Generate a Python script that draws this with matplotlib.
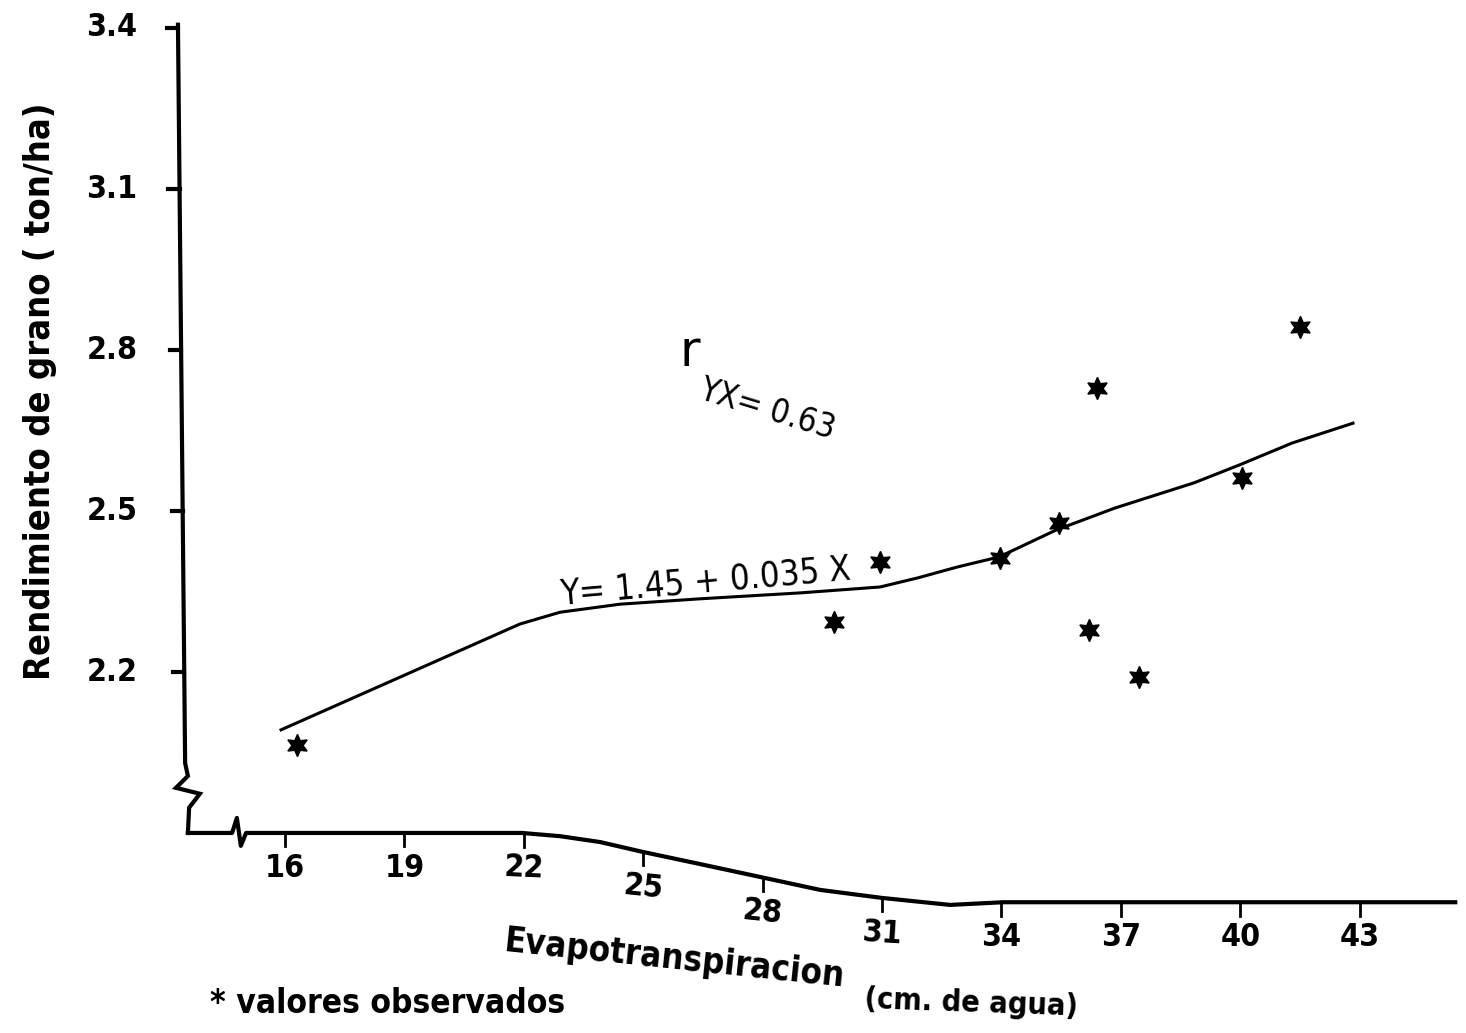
import matplotlib
matplotlib.use("Agg")
import matplotlib.pyplot as plt
import numpy as np

et_obs = [16.3, 29.8, 30.95, 33.95, 35.45, 36.2, 36.4, 37.45, 40.05, 41.5]
rend_obs = [2.065, 2.294, 2.406, 2.413, 2.478, 2.279, 2.730, 2.191, 2.562, 2.843]

# fitted line as it is drawn in the scan (the page is warped in the middle)
fit_x = [15.90, 21.90, 22.91, 24.42, 26.43, 28.94, 30.95, 31.90, 32.88,
         33.94, 35.37, 36.85, 38.84, 39.97, 41.30, 42.83]
fit_y = [2.093, 2.290, 2.312, 2.327, 2.337, 2.348, 2.359, 2.376, 2.396,
         2.415, 2.465, 2.506, 2.553, 2.586, 2.627, 2.664]

x_ticks = [16, 19, 22, 25, 28, 31, 34, 37, 40, 43]
y_ticks = [2.2, 2.5, 2.8, 3.1, 3.4]
y_labels = ["2.2", "2.5", "2.8", "3.1", "3.4"]

# hand drawn x axis line (bent like the page), with the break near the origin
axis_x = [13.56, 14.67, 14.79, 14.89, 15.02, 21.95, 22.91, 23.92, 24.97,
          26.43, 27.94, 29.44, 31.00, 32.71, 34.04, 36.98, 45.40]
axis_y = [1.901, 1.901, 1.929, 1.877, 1.901, 1.901, 1.895, 1.884, 1.866,
          1.843, 1.819, 1.795, 1.780, 1.767, 1.772, 1.772, 1.772]

# hand drawn y axis with its break
yax_x = [13.31, 13.49, 13.56, 13.26, 13.86, 13.59, 13.56]
yax_y = [3.406, 2.031, 2.007, 1.985, 1.974, 1.948, 1.901]

font = ['DejaVu Sans']
st = 'condensed'

fig = plt.figure(figsize=(14.66, 10.33), dpi=100)
ax = fig.add_axes([0, 0, 1, 1])
ax.set_xlim(8.839, 45.67)
ax.set_ylim(1.5285, 3.452)
ax.axis("off")

# axes lines
ax.plot(yax_x, yax_y, color="black", lw=3, solid_joinstyle="miter")
ax.plot(axis_x, axis_y, color="black", lw=3)

# y ticks and labels
for v, lab in zip(y_ticks, y_labels):
    xa = np.interp(v, [yax_y[1], yax_y[0]], [yax_x[1], yax_x[0]])
    ax.plot([xa - 0.28, xa], [v, v], color="black", lw=3)
    ax.text(11.65, v, lab, ha="center", va="center", fontsize=23,
            fontweight="bold", family=font, fontstretch=st)

# x ticks and labels following the bent axis
for v in x_ticks:
    ya = np.interp(v, axis_x, axis_y)
    ax.plot([v, v], [ya, ya - 0.025], color="black", lw=2)
    i = np.searchsorted(axis_x, v)
    dx = (axis_x[i] - axis_x[i - 1]) * 39.8
    dy = (axis_y[i] - axis_y[i - 1]) * 537
    ang = 0.5 * np.degrees(np.arctan2(dy, dx))
    if abs(ang) < 2:
        ang = 0
    ax.text(v, ya - 0.066, str(v), ha="center", va="center", fontsize=23,
            fontweight="bold", family=font, fontstretch=st, rotation=ang)

# fitted line and observations
ax.plot(fit_x, fit_y, color="black", lw=2.2)
ax.plot(et_obs, rend_obs, linestyle="none", marker=(6, 1, 0), markersize=16,
        color="black")

# annotations
ax.text(26.55, 2.368, "Y= 1.45 + 0.035 X", ha="center", va="center",
        fontsize=25, family=font, fontstretch=st, rotation=5)
ax.text(26.18, 2.797, "r", ha="center", va="center", fontsize=36,
        family=font)
ax.text(28.1, 2.689, "YX= 0.63", ha="center", va="center", fontsize=24,
        family=font, fontstretch=st, rotation=-17)

# labels
ax.text(9.844, 2.724, "Rendimiento de grano ( ton/ha)", rotation=90,
        ha="center", va="center", fontsize=26, fontweight="bold",
        family=font, fontstretch=st)
ax.text(21.45, 1.667, "Evapotranspiracion", ha="left", va="center",
        fontsize=25, fontweight="bold", family=font, fontstretch=st,
        rotation=-6)
ax.text(30.55, 1.584, "(cm. de agua)", ha="left", va="center",
        fontsize=22, fontweight="bold", family=font, fontstretch=st,
        rotation=-2)
ax.text(14.12, 1.584, "* valores observados", ha="left", va="center",
        fontsize=24, fontweight="bold", family=font, fontstretch=st)

fig.savefig("out.png", dpi=100)
